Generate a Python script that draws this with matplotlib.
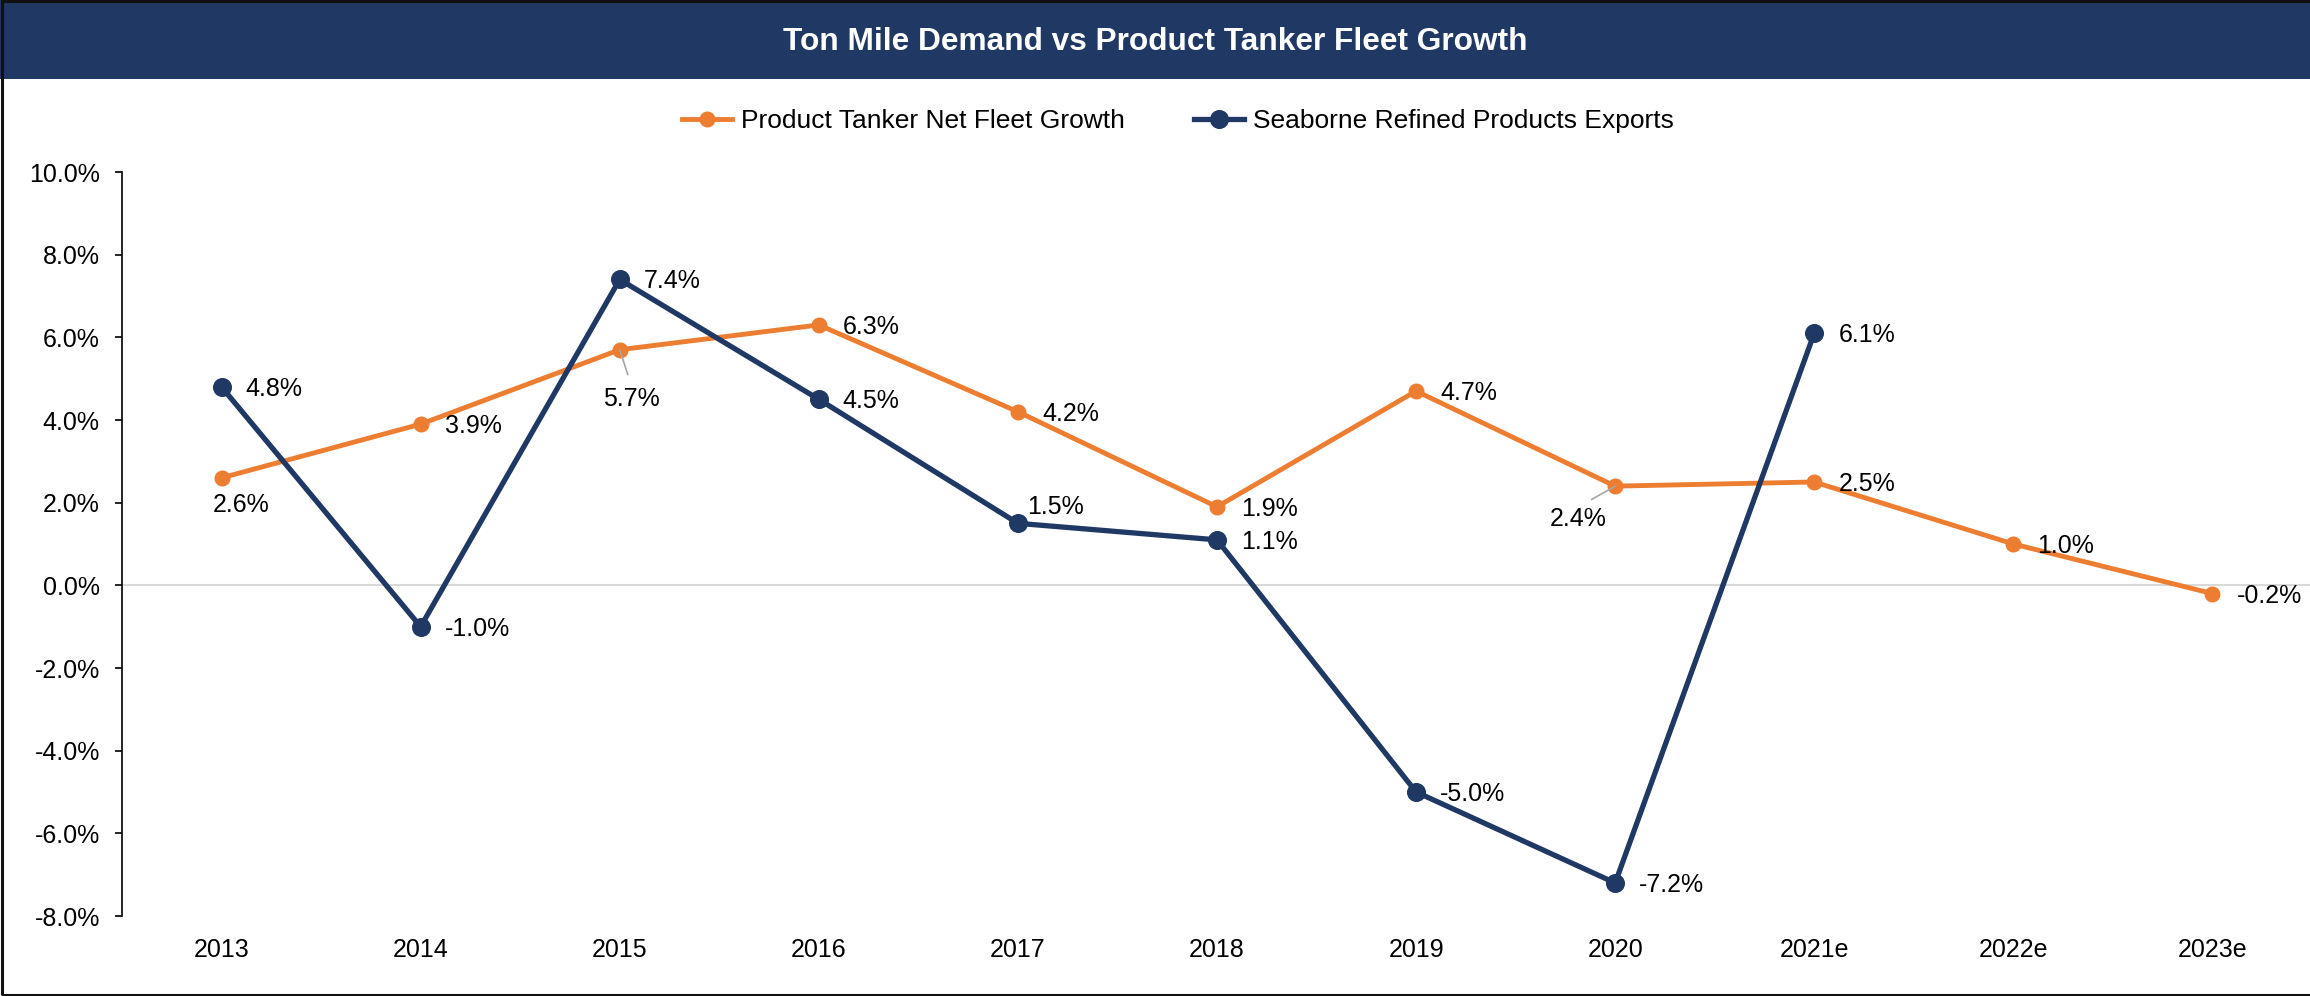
import numpy as np
import matplotlib
matplotlib.use('Agg')
import matplotlib.pyplot as plt
from matplotlib.patches import Rectangle
from matplotlib.lines import Line2D
from matplotlib.ticker import FuncFormatter, MultipleLocator

plt.rcParams['font.family'] = ['Liberation Sans', 'DejaVu Sans']

# data
years = ['2013', '2014', '2015', '2016', '2017', '2018', '2019', '2020',
         '2021e', '2022e', '2023e']
fleet_growth = [2.6, 3.9, 5.7, 6.3, 4.2, 1.9, 4.7, 2.4, 2.5, 1.0, -0.2]
exports = [4.8, -1.0, 7.4, 4.5, 1.5, 1.1, -5.0, -7.2, 6.1]

title = 'Ton Mile Demand vs Product Tanker Fleet Growth'
name_fleet = 'Product Tanker Net Fleet Growth'
name_exports = 'Seaborne Refined Products Exports'

orange = '#ED7D31'
navy = '#1F3864'

W, H = 2310, 996
fig = plt.figure(figsize=(W / 100, H / 100), dpi=100)

# title bar + frame
fig.patches.append(Rectangle((0, 1 - 79 / H), 1, 79 / H, transform=fig.transFigure,
                             facecolor='#203864', edgecolor='none', zorder=0))
fig.patches.append(Rectangle((1.5 / W, 1.5 / H), 1.0, 1 - 3 / H, transform=fig.transFigure,
                             facecolor='none', edgecolor='#111111', linewidth=2.2, zorder=5))
fig.text(0.5, 1 - 42 / H, title, color='white', fontsize=22.8, fontweight='bold',
         ha='center', va='center')

ax = fig.add_axes([122 / W, 1 - 916 / H, (W - 122) / W, 744 / H])
x = np.arange(len(years))

ax.plot(x, np.array(fleet_growth) / 100, color=orange, lw=3.5, marker='o', ms=10.5,
        solid_capstyle='round', zorder=3)
ax.plot(x[:len(exports)], np.array(exports) / 100, color=navy, lw=3.8, marker='o', ms=12.7,
        zorder=4)

ax.axhline(0, color='#D9D9D9', lw=1.5, zorder=1)

ax.set_xlim(-0.5, 10.49)
ax.set_ylim(-0.08, 0.10)
ax.yaxis.set_major_locator(MultipleLocator(0.02))
ax.yaxis.set_major_formatter(FuncFormatter(lambda v, p: '{:.1f}%'.format(v * 100)))
ax.set_xticks(x)
ax.set_xticklabels(years)
ax.tick_params(axis='x', length=0, pad=16, labelsize=18)
ax.tick_params(axis='y', length=5, width=1.2, pad=11, labelsize=18, direction='out')
for s in ['top', 'right', 'bottom']:
    ax.spines[s].set_visible(False)
ax.spines['left'].set_linewidth(1.2)

# data labels: (dx, dy) in pixels, alignment, leader line
def label(xi, val, dx=24, dy=-2, ha='left', leader=False):
    kw = {}
    if leader:
        kw['arrowprops'] = dict(arrowstyle='-', color='#A6A6A6', lw=1.2,
                                shrinkA=7, shrinkB=0, relpos=(0.5, 1.0))
    ax.annotate('{:.1f}%'.format(val), (xi, val / 100), xytext=(dx, dy),
                textcoords='offset pixels', ha=ha, va='center', fontsize=18,
                color='black', zorder=6, **kw)

special_fleet = {0: dict(dx=20, dy=-27, ha='center'),
                 2: dict(dx=12, dy=-49, ha='center', leader=True),
                 7: dict(dx=-37, dy=-33, ha='center', leader=True)}
for i, v in enumerate(fleet_growth):
    label(i, v, **special_fleet.get(i, {}))

special_exp = {4: dict(dx=9, dy=16)}
for i, v in enumerate(exports):
    label(i, v, **special_exp.get(i, {}))

handles = [Line2D([], [], color=orange, lw=3.5, marker='o', ms=10.5),
           Line2D([], [], color=navy, lw=3.8, marker='o', ms=12.7)]
fig.legend(handles, [name_fleet, name_exports], loc='center',
           bbox_to_anchor=(1178 / W, 1 - 121 / H), ncol=2, frameon=False,
           fontsize=19, handlelength=1.9, handletextpad=0.35, columnspacing=2.6)

fig.savefig('out.png', dpi=100)
